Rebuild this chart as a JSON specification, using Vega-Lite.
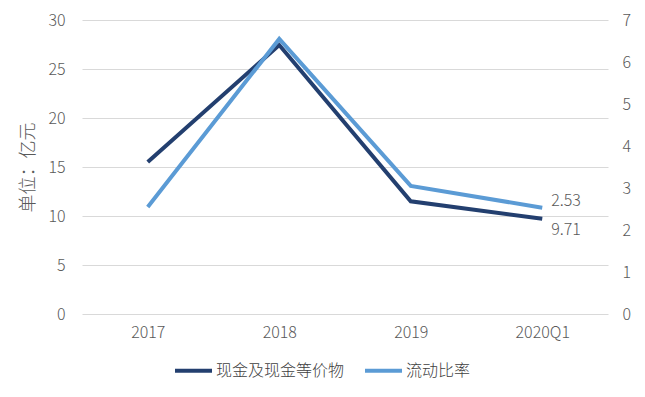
{
  "$schema": "https://vega.github.io/schema/vega-lite/v6.json",
  "autosize": "none",
  "width": 526,
  "height": 294,
  "padding": {"left": 82, "top": 20, "right": 37, "bottom": 83},
  "background": "white",
  "config": {
    "view": {"stroke": null},
    "font": "Noto Sans CJK SC",
    "axis": {"labelFont": "Noto Sans CJK SC", "labelColor": "#595959", "labelFontSize": 16, "labelFontWeight": 300, "titleFont": "Noto Sans CJK SC"}
  },
  "data": {
    "values": [
      {"year": "2017", "cash": 15.5, "ratio": 2.55},
      {"year": "2018", "cash": 27.45, "ratio": 6.55},
      {"year": "2019", "cash": 11.5, "ratio": 3.05},
      {"year": "2020Q1", "cash": 9.71, "ratio": 2.53}
    ]
  },
  "encoding": {
    "x": {
      "field": "year", "type": "ordinal", "sort": null,
      "scale": {"type": "point", "padding": 0.5},
      "axis": {"title": null, "labelAngle": 0, "domain": false, "ticks": false, "grid": false, "labelPadding": 10}
    }
  },
  "layer": [
    {
      "layer": [
        {
          "mark": {"type": "line", "strokeWidth": 4, "strokeCap": "butt"},
          "encoding": {
            "y": {
              "field": "cash", "type": "quantitative",
              "scale": {"domain": [0, 30]},
              "axis": {"title": "单位：亿元", "titleColor": "#595959", "titleFontSize": 18, "titleFontWeight": 300, "titlePadding": 10, "values": [0, 5, 10, 15, 20, 25, 30], "domain": false, "ticks": false, "gridColor": "#d9d9d9", "gridWidth": 1, "labelPadding": 17}
            },
            "color": {
              "datum": "现金及现金等价物",
              "scale": {"domain": ["现金及现金等价物", "流动比率"], "range": ["#233f6f", "#5b9bd5"]},
              "legend": {
                "title": null, "orient": "none", "legendX": 91, "legendY": 330, "direction": "horizontal",
                "symbolType": "stroke", "symbolStrokeWidth": 4, "symbolSize": 1369,
                "labelFont": "Noto Sans CJK SC", "labelFontSize": 16, "labelFontWeight": 300, "labelColor": "#404040",
                "columnPadding": 12, "labelOffset": 2
              }
            }
          }
        },
        {
          "transform": [{"filter": "datum.year === '2020Q1'"}],
          "mark": {"type": "text", "align": "left", "baseline": "middle", "dx": 9, "dy": 11, "fontSize": 16, "fontWeight": 300, "color": "#595959", "font": "Noto Sans CJK SC"},
          "encoding": {
            "y": {"field": "cash", "type": "quantitative"},
            "text": {"field": "cash", "type": "quantitative", "format": ".2f"}
          }
        }
      ]
    },
    {
      "layer": [
        {
          "mark": {"type": "line", "strokeWidth": 4, "strokeCap": "butt"},
          "encoding": {
            "y": {
              "field": "ratio", "type": "quantitative",
              "scale": {"domain": [0, 7]},
              "axis": {"title": null, "orient": "right", "values": [0, 1, 2, 3, 4, 5, 6, 7], "domain": false, "ticks": false, "grid": false, "labelPadding": 14}
            },
            "color": {"datum": "流动比率"}
          }
        },
        {
          "transform": [{"filter": "datum.year === '2020Q1'"}],
          "mark": {"type": "text", "align": "left", "baseline": "middle", "dx": 9, "dy": -7, "fontSize": 16, "fontWeight": 300, "color": "#595959", "font": "Noto Sans CJK SC"},
          "encoding": {
            "y": {"field": "ratio", "type": "quantitative"},
            "text": {"field": "ratio", "type": "quantitative", "format": ".2f"}
          }
        }
      ]
    }
  ],
  "resolve": {"scale": {"y": "independent"}}
}
